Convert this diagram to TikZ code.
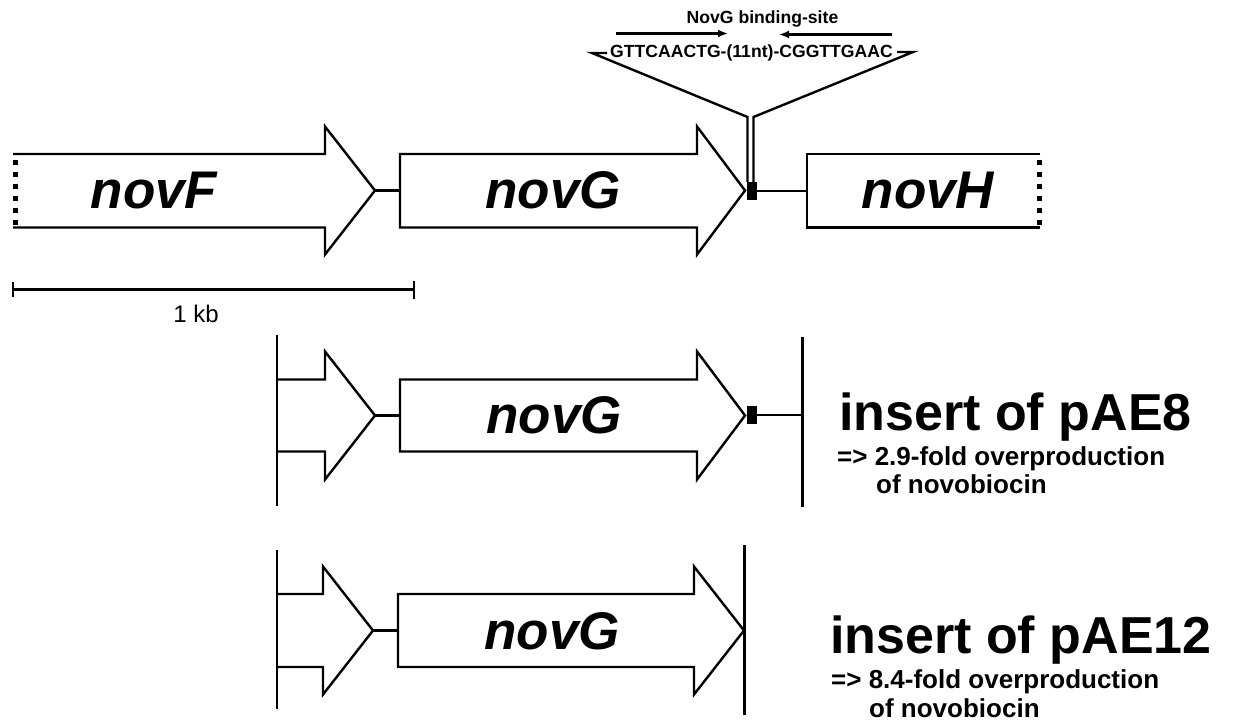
\documentclass[tikz,border=0pt]{standalone}
\usepackage{fontspec}
\setmainfont{Liberation Sans}
\usetikzlibrary{arrows.meta}
\begin{document}
\begin{tikzpicture}[x=1pt,y=-1pt,
  gene/.style={draw=black, line width=2.4pt, line join=miter},
  link/.style={draw=black, line width=2.4pt},
  bound/.style={draw=black, line width=2.6pt},
  dots/.style={draw=black, line width=5pt, dash pattern=on 5pt off 7pt},
  site/.style={fill=black, inner sep=0pt, minimum width=10pt, minimum height=18pt, rectangle},
  glabel/.style={inner sep=0pt, anchor=base, font=\fontsize{53}{60}\selectfont\bfseries\itshape},
  ins/.style={inner sep=0pt, anchor=base west, font=\fontsize{52}{60}\selectfont\bfseries},
  sub/.style={inner sep=0pt, anchor=base west, font=\fontsize{26}{30}\selectfont\bfseries},
  seq/.style={inner sep=0pt, anchor=base, font=\fontsize{17.6}{20}\selectfont\bfseries},
  dir/.style={line width=2.4pt, -{Latex[length=10pt,width=8pt]}},
]
\useasboundingbox (0,0) rectangle (1234,724);

% ---------- row 1 : novF - novG - novH ----------
\draw[gene] (13,154) -- (325,154) -- (325,126.5) -- (375,190.5) coordinate (Ftip)
  -- (325,254.5) -- (325,227.5) -- (13,227.5);
\draw[dots] (15.5,159.5) -- (15.5,225);
\draw[gene] (400,154) coordinate (G1nw) -- (697,154) -- (697,126.5) -- (745,190.5) coordinate (G1tip)
  -- (697,254.5) -- (697,227.5) -- (400,227.5) -- cycle;
\coordinate (G1left) at (400,190.5);
\draw[link] (Ftip) -- (G1left);
\node[site] (site1) at (752,191) {};
\draw[gene] (1040,154) -- (807,154) -- (807,227.5) -- (1040,227.5);
\draw[dots] (1039,159.5) -- (1039,225);
\coordinate (Hleft) at (807,191);
\draw[link] (site1.east) -- (Hleft);

\node[glabel] (novF) at (154,208) {novF};
\node[glabel] (novG1) at (553,208) {novG};
\node[glabel] (novH) at (928,208) {novH};

% ---------- binding site ----------
\coordinate (dl) at (747.5,117);
\coordinate (dr) at (753.5,117);
\coordinate (wl) at (592,53);
\coordinate (wr) at (913,52);
\coordinate (wlend) at (607,53);
\coordinate (wrend) at (897,52);
\draw[link] (site1.north -| dl) -- (dl) -- (wl) -- (wlend);
\draw[link] (site1.north -| dr) -- (dr) -- (wr) -- (wrend);
\node[seq] (seq) at (751.5,57) {GTTCAACTG-(11nt)-CGGTTGAAC};
\node[seq] (bstitle) at (762.5,23) {NovG binding-site};
\coordinate (a1s) at (616,33.5);
\coordinate (a1e) at (728,33.5);
\coordinate (a2s) at (892,34.5);
\coordinate (a2e) at (779,34.5);
\draw[dir] (a1s) -- (a1e);
\draw[dir] (a2s) -- (a2e);

% ---------- scale bar ----------
\coordinate (sb1) at (13,289.5);
\coordinate (sb2) at (414,289.5);
\draw[link] (sb1) -- (sb2);
\draw[link] (13,282) -- (13,297);
\draw[link] (414,281) -- (414,299);
\node[inner sep=0pt, anchor=base, font=\fontsize{24}{28}\selectfont] (kb) at (196,322) {1 kb};

% ---------- row 2 : insert of pAE8 ----------
\draw[bound] (277,335) coordinate (L2t) -- (277,506) coordinate (L2b);
\draw[gene] (277,379.5) -- (325,379.5) -- (325,351.5) -- (375,415.5) coordinate (F2tip)
  -- (325,479.5) -- (325,451.5) -- (277,451.5);
\draw[gene] (400,379.5) -- (697,379.5) -- (697,351.5) -- (745,415.5) coordinate (G2tip)
  -- (697,479.5) -- (697,451.5) -- (400,451.5) -- cycle;
\coordinate (G2left) at (400,415.5);
\draw[link] (F2tip) -- (G2left);
\node[site] (site2) at (752,415) {};
\draw[bound] (802.5,337) coordinate (R2t) -- (802.5,507) coordinate (R2b);
\coordinate (R2mid) at (802.5,415);
\draw[link] (site2.east) -- (R2mid);
\node[glabel] (novG2) at (554,433) {novG};

\node[ins] (ins8) at (839,430) {insert of pAE8};
\node[sub] (sub8a) at (837,465) {=> 2.9-fold overproduction};
\node[sub] (sub8b) at (876,493) {of novobiocin};

% ---------- row 3 : insert of pAE12 ----------
\draw[bound] (277,550) coordinate (L3t) -- (277,709) coordinate (L3b);
\draw[gene] (277,594) -- (323,594) -- (323,566.5) -- (373,630.5) coordinate (F3tip)
  -- (323,694.5) -- (323,667) -- (277,667);
\draw[gene] (398,594) -- (694,594) -- (694,566.5) -- (744,630.5) coordinate (G3tip)
  -- (694,694.5) -- (694,667) -- (398,667) -- cycle;
\coordinate (G3left) at (398,630.5);
\draw[link] (F3tip) -- (G3left);
\draw[bound] (744.5,545) coordinate (R3t) -- (744.5,715) coordinate (R3b);
\node[glabel] (novG3) at (552,649) {novG};

\node[ins] (ins12) at (830,653) {insert of pAE12};
\node[sub] (sub12a) at (831,688) {=> 8.4-fold overproduction};
\node[sub] (sub12b) at (869,717) {of novobiocin};
\end{tikzpicture}
\end{document}
